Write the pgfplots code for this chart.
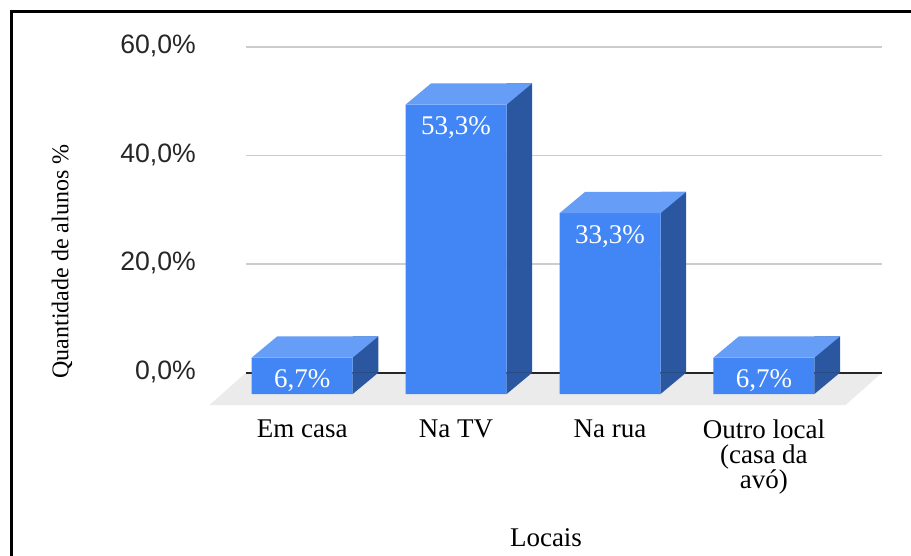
\documentclass[border=0pt]{standalone}
\usepackage{pgfplots}
\pgfplotsset{compat=1.18}
\usepackage{pgfplotstable}
\usepackage{fontspec}
\setmainfont{Liberation Serif}
\newfontfamily\arial{Liberation Sans}
\definecolor{frontcol}{HTML}{4285F4}
\definecolor{topcol}{HTML}{669DF6}
\definecolor{sidecol}{HTML}{2B57A0}
\definecolor{floorcol}{HTML}{EBEBEB}
\definecolor{gridcol}{HTML}{CCCCCC}

\pgfplotstableread{
x v lab
0 6.7 6,7\%
1 53.3 53,3\%
2 33.3 33,3\%
3 6.7 6,7\%
}\data

\pgfdeclareplotmark{topface}{%
  \pgfpathmoveto{\pgfqpoint{-25.25pt}{0pt}}%
  \pgfpathlineto{\pgfqpoint{25.25pt}{0pt}}%
  \pgfpathlineto{\pgfqpoint{12.45pt}{-10.65pt}}%
  \pgfpathlineto{\pgfqpoint{-38.05pt}{-10.65pt}}%
  \pgfpathclose
  \pgfusepathqfill
}
\pgfdeclareplotmark{sidefoot}{%
  \pgfpathmoveto{\pgfqpoint{12.45pt}{-10.65pt}}%
  \pgfpathlineto{\pgfqpoint{25.25pt}{0pt}}%
  \pgfpathlineto{\pgfqpoint{12.45pt}{0pt}}%
  \pgfpathclose
  \pgfusepathqfill
}

\begin{document}
\begin{tikzpicture}
\useasboundingbox (0,0) rectangle (455.5pt,-278pt);
\begin{axis}[
  at={(123pt,-186.35pt)}, anchor=south west,
  x=76.95pt, y=2.715pt,
  xmin=-0.5315, xmax=3.601, ymin=0, ymax=60,
  clip=false,
  axis line style={draw=none},
  major tick length=0pt,
  ytick={0,20,40,60},
  yticklabels={{0,0\%},{20,0\%},{40,0\%},{60,0\%}},
  ymajorgrids,
  grid style={color=gridcol, line width=0.9pt},
  yticklabel style={font=\arial\fontsize{13.3}{15}\selectfont, text=black!85, xshift=-21.6pt, yshift=0.5pt},
  xtick={0,1,2,3},
  xticklabels={Em casa, Na TV, Na rua, {Outro local\\(casa da\\avó)}},
  xticklabel style={font=\fontsize{13.5}{12.5}\selectfont, align=center, anchor=north, xshift=-12.8pt, yshift=-19.8pt, text=black},
]
\fill[floorcol] (rel axis cs:0,0) -- (rel axis cs:1,0) -- ([shift={(-18.25pt,-16.15pt)}]rel axis cs:1,0) -- ([shift={(-18.25pt,-16.15pt)}]rel axis cs:0,0) -- cycle;
\draw[black!85, line width=1pt] (rel axis cs:0,0) -- (rel axis cs:1,0);
% side face (rectangle part)
\addplot[ybar, bar width=12.8pt, bar shift=18.85pt, fill=sidecol, draw=none] table[x=x, y=v] {\data};
% side face (foot triangle)
\addplot[only marks, mark=sidefoot, mark options={fill=sidecol, draw=none}] table[x=x, y expr=0] {\data};
% front face
\addplot[ybar, bar width=50.5pt, bar shift=-12.8pt, fill=frontcol, draw=none, yshift=-10.65pt] table[x=x, y=v] {\data};
% top face
\addplot[only marks, mark=topface, mark options={fill=topcol, draw=none}] table[x=x, y=v] {\data};
% value labels
\addplot[draw=none, nodes near coords, point meta=explicit symbolic,
  every node near coord/.append style={anchor=north, xshift=-12.8pt, yshift=-13.2pt, text=white, font=\fontsize{13.5}{15}\selectfont}]
  table[x=x, y=v, meta=lab] {\data};
\end{axis}
\node[rotate=90, font=\fontsize{12}{14}\selectfont] at (31pt,-130.75pt) {Quantidade de alunos \%};
\node[font=\fontsize{13.5}{15}\selectfont] at (273pt,-269pt) {Locais};
\draw[line width=1.5pt, black] (5.5pt,-290pt) -- (5.5pt,-5.75pt) -- (470pt,-5.75pt);
\end{tikzpicture}
\end{document}
